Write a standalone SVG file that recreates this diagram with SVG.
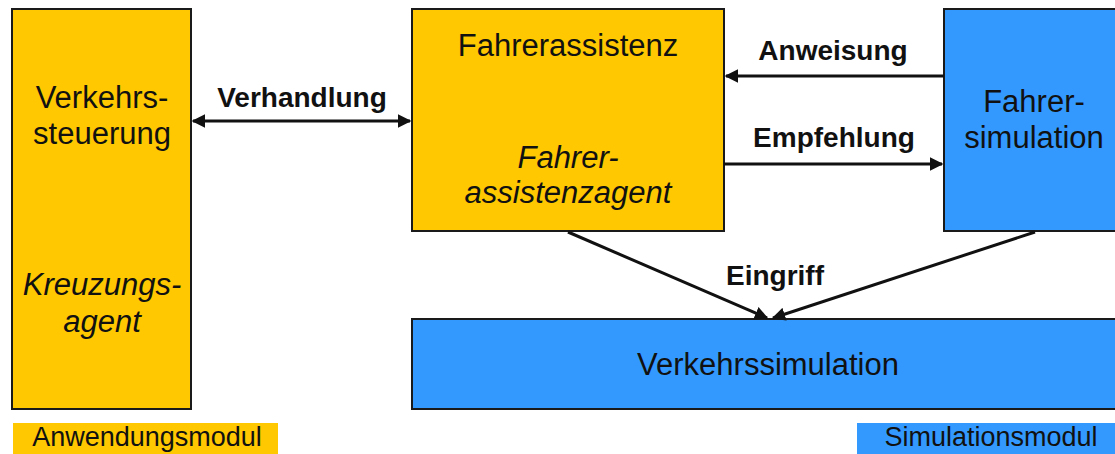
<svg xmlns="http://www.w3.org/2000/svg" width="1115" height="454" viewBox="0 0 1115 454">
<style>
.y{fill:#FFC800;stroke:#1a1a1a;stroke-width:2}
.b{fill:#3399FF;stroke:#1a1a1a;stroke-width:2}
.t{font-family:"Liberation Sans",Arial,sans-serif;font-size:31px;fill:#111;text-anchor:middle}
.i{font-style:italic}
.l{font-family:"Liberation Sans",Arial,sans-serif;font-size:28px;font-weight:bold;fill:#111;text-anchor:middle}
.m{font-family:"Liberation Sans",Arial,sans-serif;font-size:27px;fill:#111;text-anchor:middle}
.c{stroke:#111;stroke-width:3;fill:none}
</style>
<defs>
<marker id="ah" viewBox="0 0 10 10" refX="9" refY="5" markerWidth="4.5" markerHeight="4.5" orient="auto-start-reverse" markerUnits="strokeWidth">
<path d="M0,0 L10,5 L0,10 Z" fill="#111"/>
</marker>
</defs>
<rect x="0" y="0" width="1115" height="454" fill="#fff"/>
<g id="verkehrssteuerung">
<rect class="y" x="12" y="9" width="179" height="400"/>
<text class="t" x="102" y="108">Verkehrs-</text>
<text class="t" x="102" y="144">steuerung</text>
<text class="t i" x="102" y="295">Kreuzungs-</text>
<text class="t i" x="102" y="332">agent</text>
</g>
<g id="fahrerassistenz">
<rect class="y" x="412" y="9" width="312" height="222"/>
<text class="t" x="568" y="56">Fahrerassistenz</text>
<text class="t i" x="568" y="168">Fahrer-</text>
<text class="t i" x="568" y="203">assistenzagent</text>
</g>
<g id="fahrersimulation">
<rect class="b" x="944" y="9" width="175" height="222"/>
<text class="t" x="1034" y="112">Fahrer-</text>
<text class="t" x="1034" y="148">simulation</text>
</g>
<g id="verkehrssimulation">
<rect class="b" x="412" y="319" width="707" height="90"/>
<text class="t" x="768" y="375">Verkehrssimulation</text>
</g>
<g id="anwendungsmodul">
<rect x="13" y="423" width="265" height="35" fill="#FFC800"/>
<text class="m" x="147" y="446">Anwendungsmodul</text>
</g>
<g id="simulationsmodul">
<rect x="857" y="423" width="262" height="35" fill="#3399FF"/>
<text class="m" x="991" y="446">Simulationsmodul</text>
</g>
<g id="connectors">
<line class="c" x1="193" y1="121" x2="410" y2="121" marker-start="url(#ah)" marker-end="url(#ah)"/>
<line class="c" x1="944" y1="76" x2="726" y2="76" marker-end="url(#ah)"/>
<line class="c" x1="724" y1="164" x2="942" y2="164" marker-end="url(#ah)"/>
<line class="c" x1="568" y1="232" x2="767" y2="318" marker-end="url(#ah)"/>
<line class="c" x1="1035" y1="232" x2="773" y2="318" marker-end="url(#ah)"/>
<text class="l" x="302" y="107">Verhandlung</text>
<text class="l" x="833" y="60">Anweisung</text>
<text class="l" x="834" y="147">Empfehlung</text>
<text class="l" x="775" y="285">Eingriff</text>
</g>
</svg>
